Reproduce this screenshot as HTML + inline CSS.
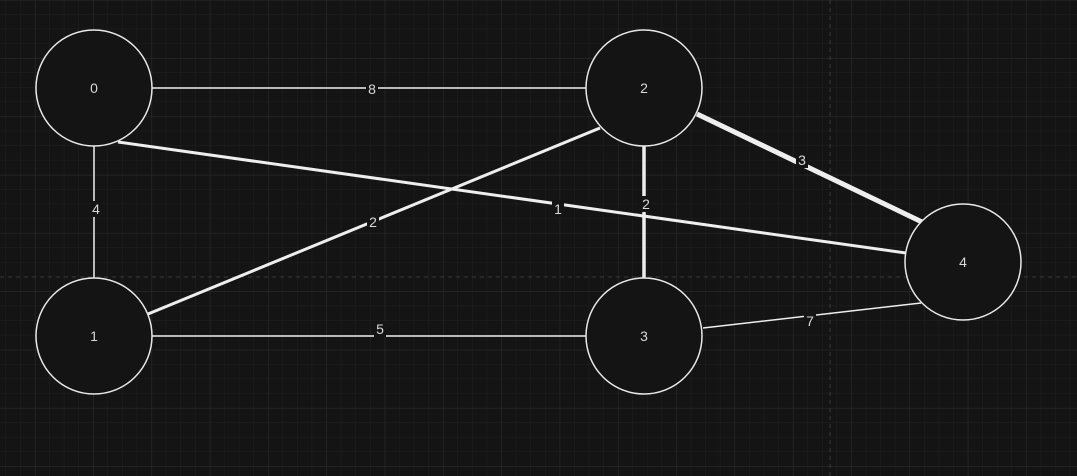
<!DOCTYPE html>
<html><head><meta charset="utf-8"><style>
html,body{margin:0;padding:0;background:#141414;}
svg{display:block;font-family:"Liberation Sans",sans-serif;}
</style></head><body>
<svg id="g" width="1077" height="476">
<defs>
<pattern id="minor" width="14.58" height="14.58" patternUnits="userSpaceOnUse" x="6" y="0">
<path d="M14.58 0V14.58H0" fill="none" stroke="#1f1f1f" stroke-width="1"/></pattern>
<pattern id="major" width="58.3" height="58.3" patternUnits="userSpaceOnUse" x="35" y="0">
<path d="M0 0V58.3M0 0H58.3" fill="none" stroke="#2a2a2a" stroke-width="1"/></pattern>
</defs>
<rect width="1077" height="476" fill="#141414"/>
<rect width="1077" height="476" fill="url(#minor)"/>
<rect width="1077" height="476" fill="url(#major)"/>
<line x1="830" y1="0" x2="830" y2="476" stroke="#3a3a3a" stroke-dasharray="4,4"/>
<line x1="0" y1="277" x2="1077" y2="277" stroke="#3a3a3a" stroke-dasharray="4,4"/>
<g id="edges"></g><g id="nodes"></g><g id="labels"></g>
</svg>
<script>
const nodeIds=["0","1","2","3","4"];
const nodeX=[94,94,644,644,963];
const nodeY=[88,336,88,336,262];
const edgeFrom=[0,0,0,1,2,2,1,3];
const edgeTo=[2,1,4,2,3,4,3,4];
const edgeWeights=["8","4","1","2","2","3","5","7"];
const edgeWidths=[1.5,1.5,3,3,3.5,5,1.5,1.5];
const edgeStart=[[152,88],[94,146],[118,142],[148,314],[644,146],[697,114],[152,336],[703,328]];
const edgeEnd=[[586,88],[94,278],[906,253],[600,128],[644,278],[922,222],[586,336],[921,303]];
const labelPos=[[372,89],[96,209],[558,209],[373,222],[646,204],[802,160],[380,329],[810,321]];
const R=58;
const NS="http://www.w3.org/2000/svg";
const E=document.getElementById('edges'),N=document.getElementById('nodes'),L=document.getElementById('labels');
edgeFrom.forEach((f,i)=>{
 const l=document.createElementNS(NS,'line');
 l.setAttribute('x1',edgeStart[i][0]);l.setAttribute('y1',edgeStart[i][1]);
 l.setAttribute('x2',edgeEnd[i][0]);l.setAttribute('y2',edgeEnd[i][1]);
 l.setAttribute('stroke','#eeeeee');l.setAttribute('stroke-width',edgeWidths[i]);
 
 
 E.appendChild(l);
 const bg=document.createElementNS(NS,'rect');
 bg.setAttribute('x',labelPos[i][0]-6);bg.setAttribute('y',labelPos[i][1]-8);
 bg.setAttribute('width',12);bg.setAttribute('height',16);bg.setAttribute('fill','#141414');
 
 
 L.appendChild(bg);
 const t=document.createElementNS(NS,'text');
 t.setAttribute('x',labelPos[i][0]);t.setAttribute('y',labelPos[i][1]+5);
 t.setAttribute('text-anchor','middle');t.setAttribute('font-size','14');t.setAttribute('fill','#d8d8d8');
 t.textContent=edgeWeights[i];
 
 
 L.appendChild(t);
});
nodeIds.forEach((id,i)=>{
 const c=document.createElementNS(NS,'circle');
 c.setAttribute('cx',nodeX[i]);c.setAttribute('cy',nodeY[i]);c.setAttribute('r',R);
 c.setAttribute('fill','#141414');c.setAttribute('stroke','#e8e8e8');c.setAttribute('stroke-width','1.5');
 
 
 N.appendChild(c);
 const t=document.createElementNS(NS,'text');
 t.setAttribute('x',nodeX[i]);t.setAttribute('y',nodeY[i]+5);
 t.setAttribute('text-anchor','middle');t.setAttribute('font-size','14');t.setAttribute('fill','#d8d8d8');
 t.textContent=id;
 
 
 N.appendChild(t);
});
</script>
</body></html>
